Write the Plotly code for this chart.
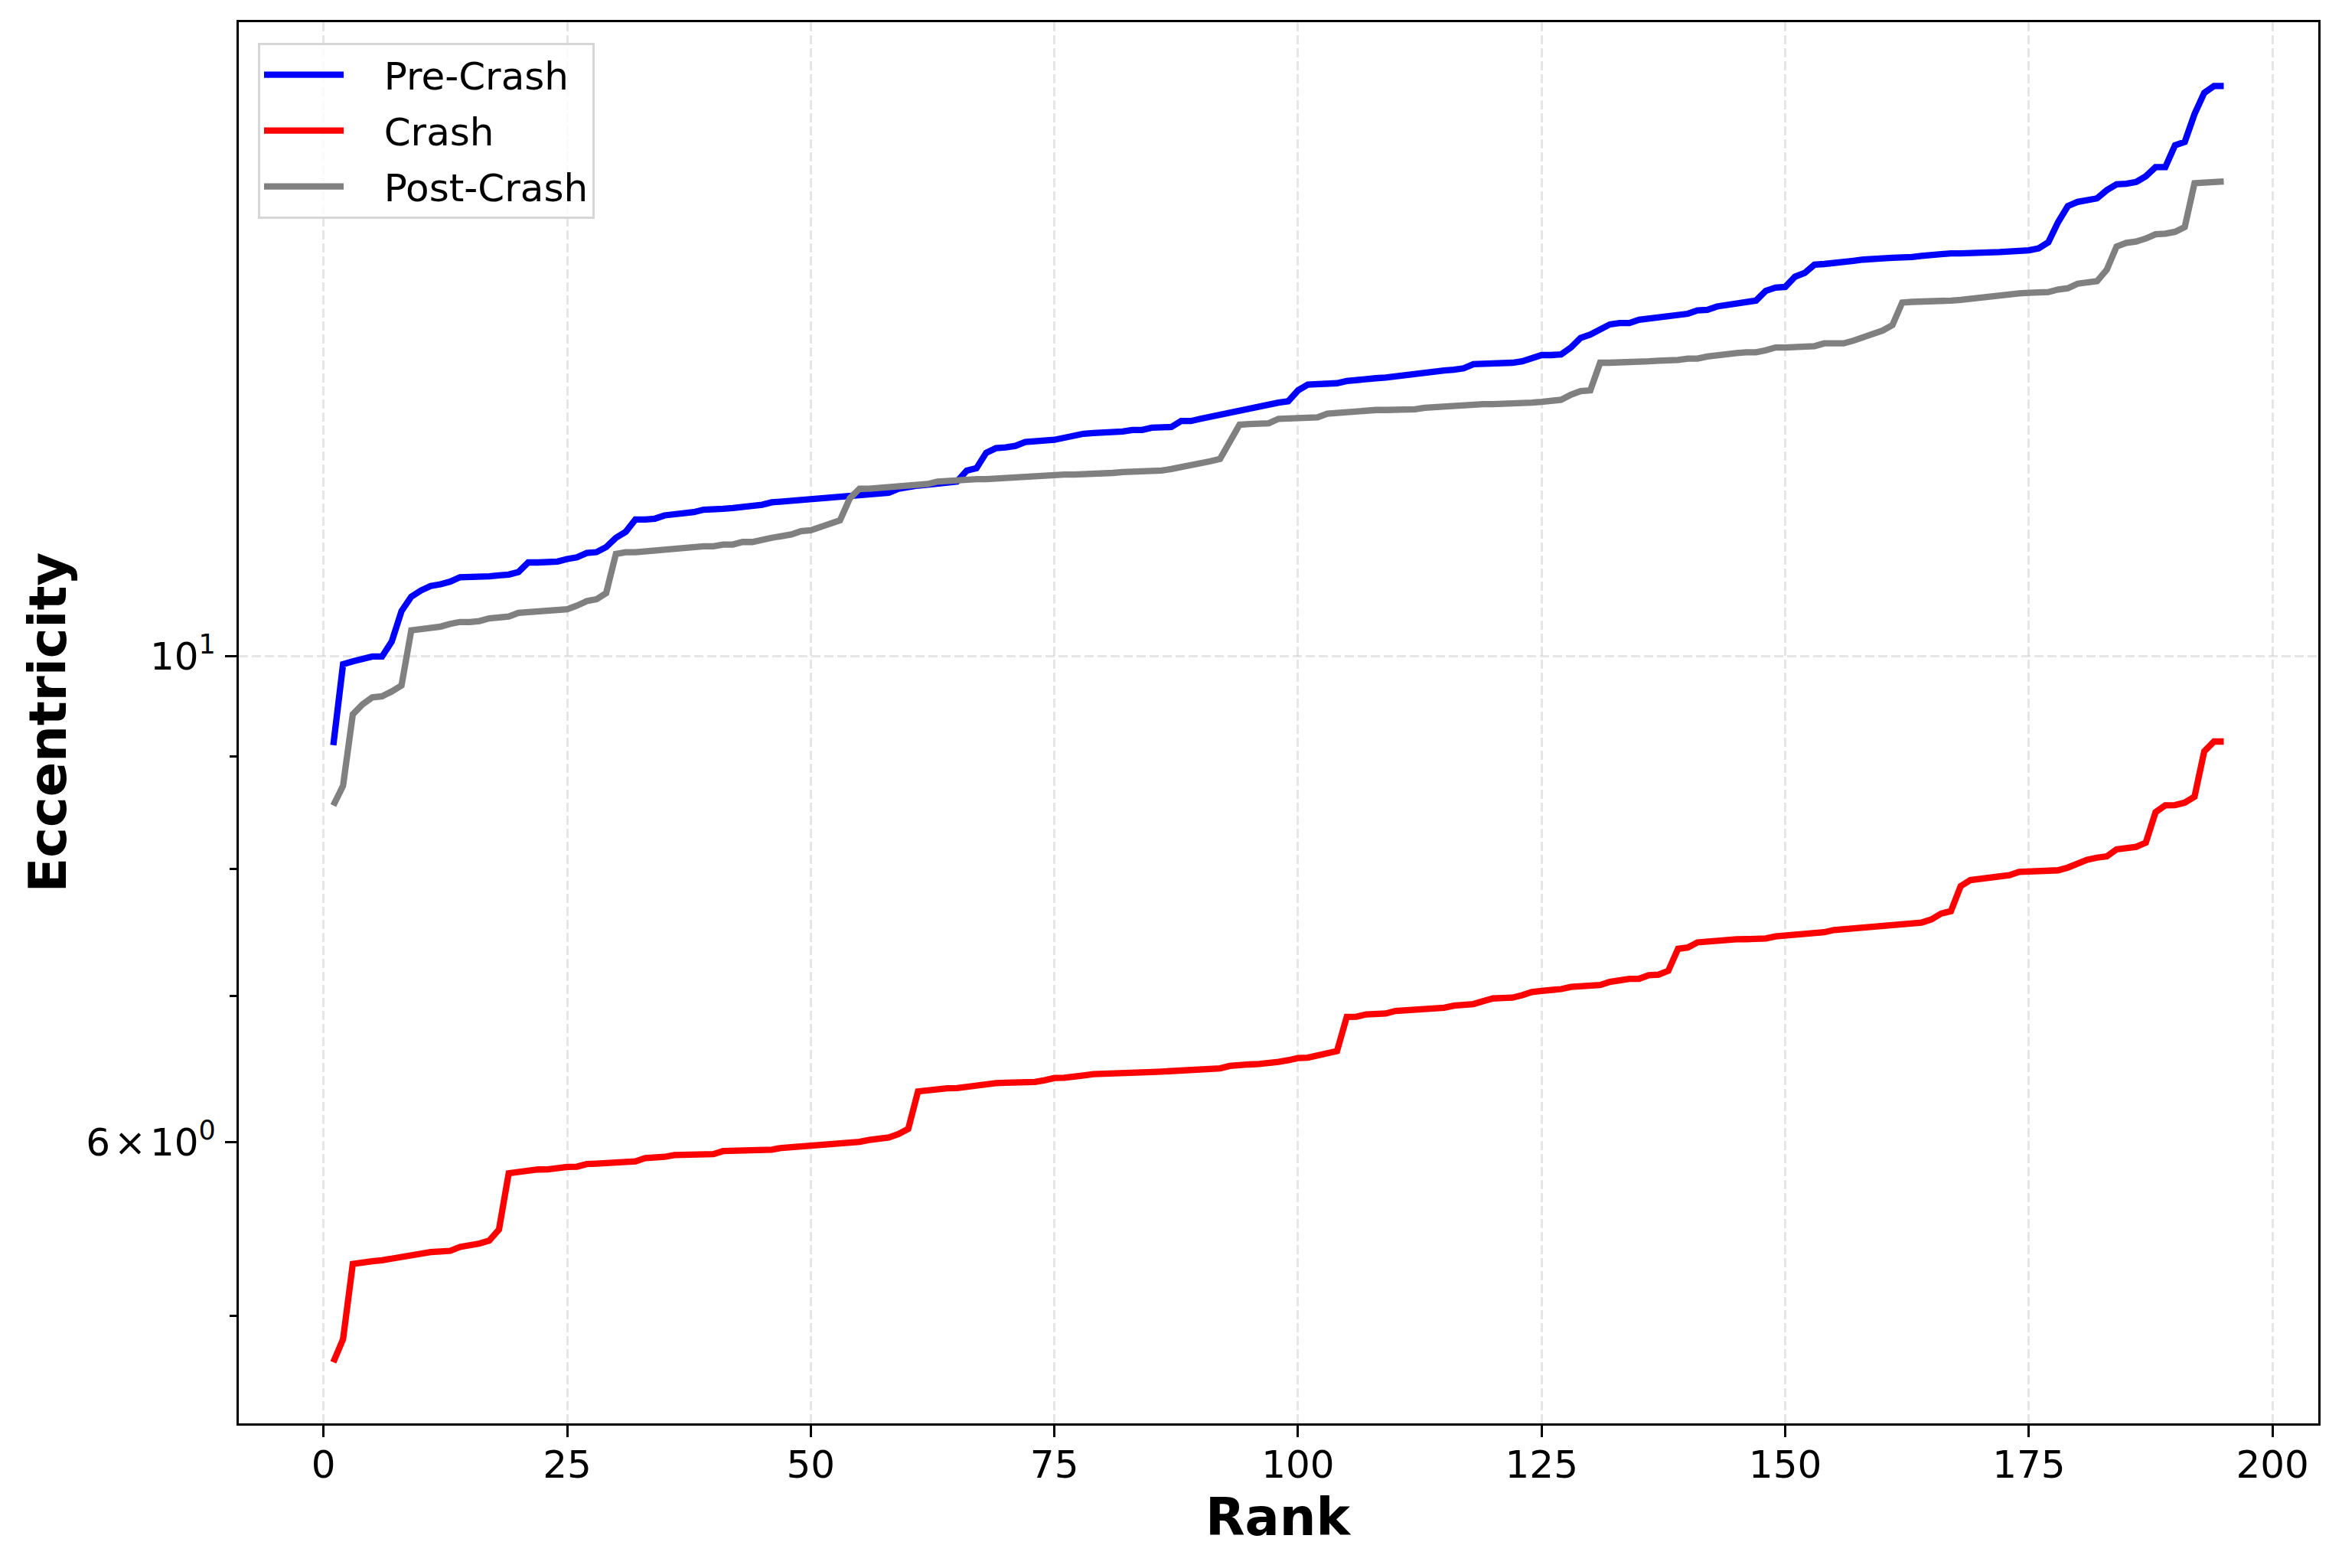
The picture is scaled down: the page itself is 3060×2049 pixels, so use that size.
import plotly.graph_objects as go

# ---------------- data ----------------
rank = list(range(1, 196))

pre_crash = [
    9.11, 9.92, 9.95, 9.98, 10.00, 10.00, 10.16, 10.49, 10.65, 10.72,
    10.77, 10.79, 10.82, 10.87, 10.87, 10.88, 10.88, 10.89, 10.90, 10.93,
    11.04, 11.04, 11.05, 11.05, 11.08, 11.10, 11.15, 11.16, 11.22, 11.33,
    11.40, 11.55, 11.55, 11.56, 11.60, 11.61, 11.62, 11.64, 11.67, 11.67,
    11.68, 11.69, 11.70, 11.71, 11.73, 11.76, 11.77, 11.78, 11.79, 11.80,
    11.81, 11.82, 11.83, 11.85, 11.85, 11.87, 11.88, 11.88, 11.93, 11.96,
    11.97, 11.98, 11.99, 12.00, 12.02, 12.16, 12.19, 12.39, 12.45, 12.46,
    12.48, 12.53, 12.55, 12.55, 12.56, 12.59, 12.60, 12.64, 12.65, 12.65,
    12.66, 12.67, 12.69, 12.69, 12.72, 12.72, 12.73, 12.81, 12.81, 12.84,
    12.87, 12.89, 12.93, 12.95, 12.99, 13.02, 13.03, 13.06, 13.08, 13.23,
    13.31, 13.31, 13.32, 13.33, 13.36, 13.38, 13.39, 13.40, 13.41, 13.43,
    13.44, 13.46, 13.47, 13.51, 13.51, 13.52, 13.54, 13.60, 13.60, 13.60,
    13.61, 13.62, 13.64, 13.69, 13.73, 13.73, 13.74, 13.84, 13.98, 14.03,
    14.11, 14.18, 14.20, 14.20, 14.25, 14.27, 14.28, 14.30, 14.32, 14.34,
    14.39, 14.40, 14.45, 14.47, 14.49, 14.51, 14.54, 14.69, 14.74, 14.75,
    14.91, 14.97, 15.10, 15.11, 15.12, 15.14, 15.16, 15.18, 15.20, 15.20,
    15.21, 15.21, 15.22, 15.24, 15.26, 15.27, 15.28, 15.28, 15.28, 15.28,
    15.29, 15.30, 15.31, 15.31, 15.33, 15.36, 15.46, 15.79, 16.06, 16.13,
    16.16, 16.19, 16.33, 16.43, 16.44, 16.47, 16.57, 16.73, 16.73, 17.12,
    17.18, 17.69, 18.09, 18.22, 18.22,
]

crash = [
    4.761, 4.878, 5.280, 5.290, 5.295, 5.300, 5.310, 5.320, 5.325, 5.333,
    5.346, 5.349, 5.353, 5.375, 5.382, 5.394, 5.411, 5.474, 5.808, 5.815,
    5.829, 5.831, 5.832, 5.843, 5.847, 5.848, 5.864, 5.867, 5.871, 5.875,
    5.878, 5.881, 5.901, 5.902, 5.909, 5.920, 5.921, 5.923, 5.924, 5.926,
    5.945, 5.946, 5.947, 5.948, 5.950, 5.954, 5.965, 5.969, 5.970, 5.975,
    5.981, 5.990, 5.991, 5.994, 6.003, 6.015, 6.023, 6.031, 6.052, 6.085,
    6.330, 6.340, 6.351, 6.351, 6.352, 6.361, 6.373, 6.381, 6.385, 6.388,
    6.389, 6.390, 6.393, 6.405, 6.420, 6.421, 6.434, 6.437, 6.446, 6.447,
    6.447, 6.449, 6.452, 6.456, 6.460, 6.463, 6.467, 6.470, 6.472, 6.476,
    6.478, 6.485, 6.502, 6.511, 6.512, 6.515, 6.519, 6.530, 6.541, 6.556,
    6.559, 6.577, 6.587, 6.604, 6.846, 6.847, 6.864, 6.869, 6.870, 6.889,
    6.893, 6.898, 6.909, 6.910, 6.912, 6.927, 6.930, 6.939, 6.960, 6.980,
    6.983, 6.986, 7.004, 7.027, 7.036, 7.040, 7.049, 7.065, 7.067, 7.073,
    7.079, 7.103, 7.116, 7.125, 7.126, 7.153, 7.157, 7.186, 7.354, 7.364,
    7.404, 7.412, 7.422, 7.427, 7.428, 7.429, 7.431, 7.434, 7.451, 7.457,
    7.462, 7.475, 7.480, 7.483, 7.501, 7.508, 7.518, 7.523, 7.532, 7.538,
    7.545, 7.548, 7.552, 7.560, 7.585, 7.632, 7.651, 7.855, 7.905, 7.916,
    7.931, 7.942, 7.946, 7.974, 7.977, 7.979, 7.981, 7.987, 8.010, 8.045,
    8.076, 8.094, 8.105, 8.165, 8.176, 8.186, 8.222, 8.490, 8.552, 8.554,
    8.576, 8.630, 9.052, 9.145, 9.145,
]

post_crash = [
    8.55, 8.73, 9.41, 9.51, 9.58, 9.59, 9.64, 9.70, 10.28, 10.29,
    10.30, 10.32, 10.35, 10.37, 10.37, 10.38, 10.41, 10.42, 10.43, 10.47,
    10.48, 10.49, 10.50, 10.50, 10.51, 10.55, 10.60, 10.62, 10.69, 11.14,
    11.16, 11.16, 11.17, 11.19, 11.20, 11.20, 11.21, 11.22, 11.23, 11.23,
    11.25, 11.25, 11.28, 11.28, 11.31, 11.33, 11.35, 11.37, 11.41, 11.42,
    11.46, 11.50, 11.54, 11.81, 11.93, 11.93, 11.94, 11.94, 11.96, 11.96,
    11.97, 11.99, 12.02, 12.03, 12.03, 12.04, 12.05, 12.05, 12.06, 12.06,
    12.07, 12.08, 12.09, 12.10, 12.10, 12.11, 12.11, 12.11, 12.11, 12.12,
    12.13, 12.14, 12.14, 12.15, 12.15, 12.16, 12.18, 12.20, 12.24, 12.25,
    12.28, 12.31, 12.53, 12.76, 12.77, 12.78, 12.78, 12.84, 12.85, 12.86,
    12.86, 12.86, 12.91, 12.92, 12.93, 12.96, 12.96, 12.96, 12.96, 12.96,
    12.96, 12.97, 12.99, 13.00, 13.02, 13.02, 13.03, 13.04, 13.04, 13.04,
    13.04, 13.04, 13.05, 13.06, 13.07, 13.08, 13.10, 13.17, 13.22, 13.23,
    13.62, 13.62, 13.62, 13.63, 13.63, 13.64, 13.65, 13.65, 13.66, 13.68,
    13.68, 13.71, 13.73, 13.76, 13.76, 13.77, 13.77, 13.80, 13.84, 13.84,
    13.84, 13.85, 13.86, 13.90, 13.90, 13.90, 13.94, 13.99, 14.03, 14.09,
    14.17, 14.51, 14.52, 14.52, 14.53, 14.54, 14.54, 14.55, 14.57, 14.58,
    14.59, 14.63, 14.64, 14.65, 14.66, 14.67, 14.67, 14.71, 14.73, 14.80,
    14.82, 14.84, 15.02, 15.39, 15.45, 15.47, 15.52, 15.59, 15.60, 15.63,
    15.71, 16.45, 16.46, 16.48, 16.48,
]

x_ticks = [0, 25, 50, 75, 100, 125, 150, 175, 200]
y_major_ticks = [6, 10]
y_major_labels = ["6\u200a×\u200a10<sup>0</sup>", "10<sup>1</sup>"]
y_minor_ticks = [5, 7, 8, 9]
y_grid_ticks = [10]

series = [
    ("Pre-Crash", pre_crash, "#0000ff"),
    ("Crash", crash, "#ff0000"),
    ("Post-Crash", post_crash, "#808080"),
]

# ---------------- figure ----------------
FONT = "DejaVu Sans"
GRID = "rgba(176,176,176,0.32)"
X_RANGE = [-8.7, 204.7]
Y_RANGE = [0.6498, 1.2897]  # log10 units
NB = "\u00a0\u00a0\u00a0"

fig = go.Figure()
for name, vals, color in series:
    fig.add_trace(go.Scatter(
        x=rank, y=vals, mode="lines", name=NB + name, legendgroup=name,
        line=dict(color=color, width=8.3),
    ))

# helper trace so the overlay axis (carrying only the 10^1 grid line) exists
fig.add_trace(go.Scatter(x=[], y=[], yaxis="y2", showlegend=False,
                         hoverinfo="skip"))

fig.update_layout(
    width=3060, height=2049,
    margin=dict(l=304, r=39, t=21, b=197, pad=0),
    paper_bgcolor="white", plot_bgcolor="white",
    font=dict(family=FONT, size=50, color="black"),
    showlegend=True,
    legend=dict(
        x=0.0092, y=0.9855, xanchor="left", yanchor="top",
        bgcolor="rgba(255,255,255,0.8)",
        bordercolor="#d6d6d6", borderwidth=3,
        font=dict(family=FONT, size=50, color="black"),
        itemwidth=104, tracegroupgap=5,
    ),
    xaxis=dict(
        range=X_RANGE, tickmode="array", tickvals=x_ticks,
        ticks="outside", ticklen=15, tickwidth=3.3, tickcolor="black",
        showline=True, linecolor="black", linewidth=3.3, mirror=True,
        showgrid=True, gridcolor=GRID, gridwidth=3.3, griddash="12px,5px",
        zeroline=False, ticklabelstandoff=-7,
        tickfont=dict(family=FONT, size=50, color="black"),
    ),
    yaxis=dict(
        type="log", range=Y_RANGE,
        tickmode="array", tickvals=y_major_ticks, ticktext=y_major_labels,
        ticks="outside", ticklen=15, tickwidth=3.3, tickcolor="black",
        showline=True, linecolor="black", linewidth=3.3, mirror=True,
        showgrid=False, zeroline=False, ticklabelstandoff=2,
        tickfont=dict(family=FONT, size=50, color="black"),
        minor=dict(tickmode="array", tickvals=y_minor_ticks, ticks="outside",
                   ticklen=8.5, tickwidth=2.5, tickcolor="black",
                   showgrid=False),
    ),
    yaxis2=dict(
        type="log", range=Y_RANGE, overlaying="y", side="left", anchor="x",
        tickmode="array", tickvals=y_grid_ticks, showticklabels=False,
        ticks="", showline=False, zeroline=False,
        showgrid=True, gridcolor=GRID, gridwidth=3.3, griddash="12px,5px",
    ),
    annotations=[
        dict(text="<b>Rank</b>", xref="paper", yref="paper", x=0.5, y=0,
             xanchor="center", yanchor="middle", yshift=-123,
             showarrow=False,
             font=dict(family=FONT, size=67, color="black")),
        dict(text="<b>Eccentricity</b>", xref="paper", yref="paper",
             x=0, y=0.5, xanchor="center", yanchor="middle", xshift=-250,
             textangle=-90, showarrow=False,
             font=dict(family=FONT, size=67, color="black")),
    ],
)

fig.write_html("out.html")
